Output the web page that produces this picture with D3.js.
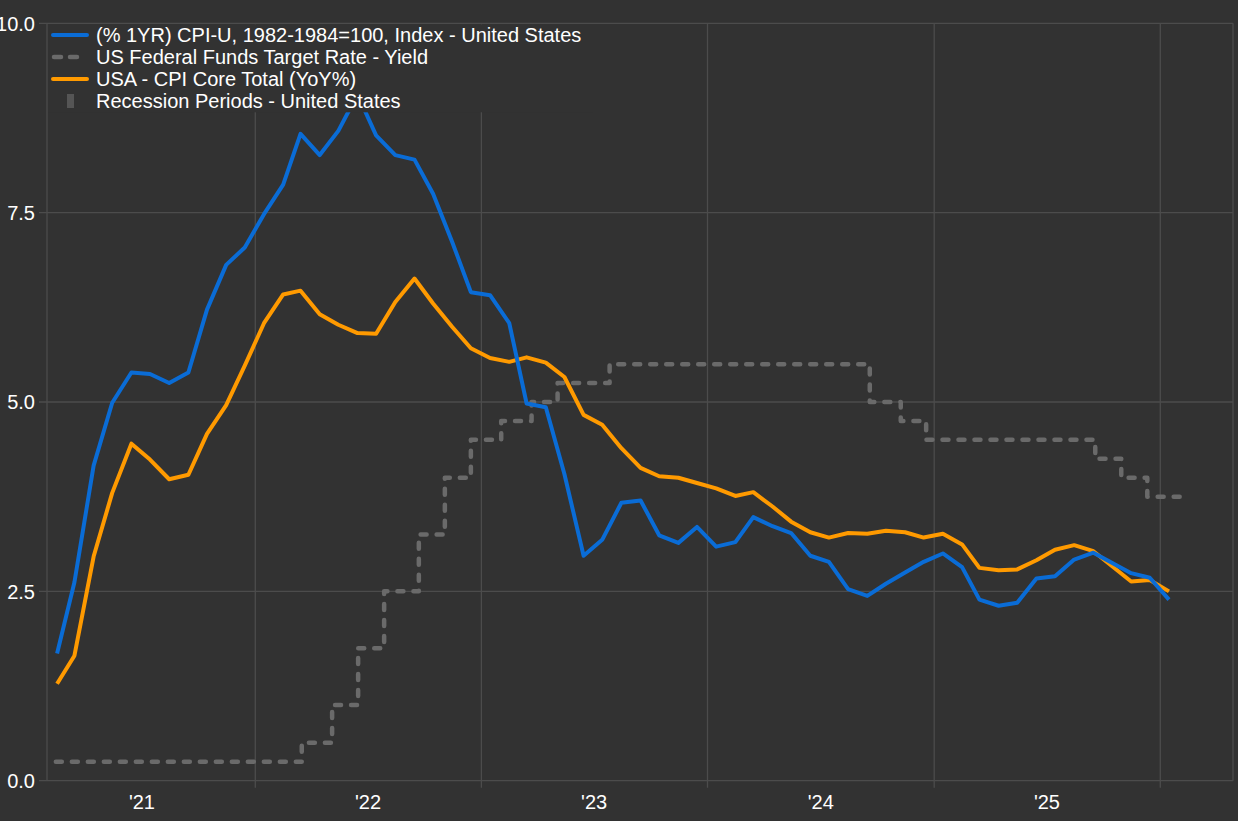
<!DOCTYPE html>
<html lang="en">
    <head>
        <meta charset="UTF-8">
        <title>CPI vs Fed Funds</title>
        <style>
            * { box-sizing: border-box; }
            body { margin: 0; background: #323232; font-family: 'Liberation Sans', Arial, sans-serif; }
            svg { display: block; }
        </style>
    </head>
    <body>
        <div id="chart"></div>
        <script src="https://cdn.jsdelivr.net/npm/d3@7/dist/d3.min.js"></script>
        <script>
            // monthly series, Feb 2021 .. Jan 2026 (Oct 2025 not published)
            var months = ['2021-02','2021-03','2021-04','2021-05','2021-06','2021-07','2021-08','2021-09','2021-10','2021-11','2021-12',
                '2022-01','2022-02','2022-03','2022-04','2022-05','2022-06','2022-07','2022-08','2022-09','2022-10','2022-11','2022-12',
                '2023-01','2023-02','2023-03','2023-04','2023-05','2023-06','2023-07','2023-08','2023-09','2023-10','2023-11','2023-12',
                '2024-01','2024-02','2024-03','2024-04','2024-05','2024-06','2024-07','2024-08','2024-09','2024-10','2024-11','2024-12',
                '2025-01','2025-02','2025-03','2025-04','2025-05','2025-06','2025-07','2025-08','2025-09','2025-11','2025-12',
                '2026-01'];
            var cpiHeadline = [1.68,2.62,4.16,4.99,5.39,5.37,5.25,5.39,6.22,6.81,7.04,
                7.48,7.87,8.54,8.26,8.58,9.06,8.52,8.26,8.20,7.75,7.11,6.45,
                6.41,6.04,4.98,4.93,4.05,2.97,3.18,3.67,3.70,3.24,3.14,3.35,
                3.09,3.15,3.48,3.36,3.27,2.97,2.89,2.53,2.44,2.60,2.75,2.89,
                3.00,2.82,2.39,2.31,2.35,2.67,2.70,2.92,3.01,2.74,2.68,
                2.39];
            var cpiCore = [1.28,1.65,2.96,3.80,4.45,4.24,3.98,4.04,4.58,4.96,5.48,
                6.04,6.42,6.47,6.16,6.02,5.91,5.90,6.32,6.63,6.30,5.99,5.71,
                5.58,5.53,5.59,5.52,5.33,4.83,4.70,4.39,4.13,4.02,4.00,3.93,
                3.86,3.76,3.81,3.62,3.42,3.28,3.21,3.27,3.26,3.30,3.28,3.21,
                3.26,3.12,2.81,2.78,2.79,2.91,3.05,3.11,3.03,2.63,2.65,
                2.50];

            // fed funds target (upper bound), value holds from each date
            var fedDates = ['2021-02-13','2022-03-17','2022-05-05','2022-06-16','2022-07-28','2022-09-22','2022-11-03','2022-12-15',
                '2023-02-02','2023-03-23','2023-05-04','2023-07-27','2024-09-19','2024-11-08','2024-12-19',
                '2025-09-18','2025-10-30','2025-12-11','2026-02-04'];
            var fedRate = [0.25,0.50,1.00,1.75,2.50,3.25,4.00,4.50,
                4.75,5.00,5.25,5.50,5.00,4.75,4.50,
                4.25,4.00,3.75,3.75];

            var yTicks = [0, 2.5, 5, 7.5, 10];
            var yearTicks = ['2021','2022','2023','2024','2025'];
            var legendLabels = ['(% 1YR) CPI-U, 1982-1984=100, Index - United States',
                'US Federal Funds Target Rate - Yield',
                'USA - CPI Core Total (YoY%)',
                'Recession Periods - United States'];

            var w = 1238, h = 821;
            var plotL = 47, plotR = 1233, plotT = 23.3, plotB = 780.7;
            var bg = '#323232', grid = '#4c4c4c';
            var blue = '#0a6cd6', orange = '#ff9a00', fedColor = '#6a6a6a';

            var parseMonth = d3.timeParse('%Y-%m');
            var parseDay = d3.timeParse('%Y-%m-%d');
            var monthDate = function (m) { return d3.timeDay.offset(parseMonth(m), 14); };

            // calibrate time axis: 1 Jan 2022 -> 255.3, 1 Jan 2026 -> 1160.3
            var calib = d3.scaleTime().domain([new Date(2022, 0, 1), new Date(2026, 0, 1)]).range([255.3, 1160.3]);
            var x = d3.scaleTime().domain([calib.invert(plotL), calib.invert(plotR)]).range([plotL, plotR]);
            var y = d3.scaleLinear().domain([0, 10]).range([plotB, plotT]);

            const svg = d3.select('#chart').append('svg').attr('width', w).attr('height', h);
            svg.append('rect').attr('width', w).attr('height', h).style('fill', bg);

            // horizontal grid + y labels
            svg.append('g').selectAll('line').data(yTicks).join('line')
                .attr('x1', plotL - 8).attr('x2', plotR)
                .attr('y1', d => y(d)).attr('y2', d => y(d))
                .style('stroke', grid).style('stroke-width', 1.3);
            svg.append('g').selectAll('text').data(yTicks).join('text')
                .attr('x', 35).attr('y', d => y(d)).attr('dy', '0.36em')
                .attr('text-anchor', 'end')
                .style('fill', '#fff').style('font-size', '20px')
                .text(d => d3.format('.1f')(d));

            // year boundaries + labels
            var yearStarts = yearTicks.map(yr => new Date(+yr + 1, 0, 1));
            svg.append('g').selectAll('line').data(yearStarts).join('line')
                .attr('x1', d => x(d)).attr('x2', d => x(d))
                .attr('y1', plotT).attr('y2', plotB + 7)
                .style('stroke', grid).style('stroke-width', 1.3);
            svg.append('g').selectAll('text').data(yearTicks).join('text')
                .attr('x', d => x(new Date(+d, 6, 2)))
                .attr('y', 809)
                .attr('text-anchor', 'middle')
                .style('fill', '#fff').style('font-size', '20px')
                .text(d => "'" + d.slice(2));

            // frame
            svg.append('line').attr('x1', plotL).attr('x2', plotL).attr('y1', plotT).attr('y2', plotB).style('stroke', grid).style('stroke-width', 1.3);
            svg.append('line').attr('x1', plotR).attr('x2', plotR).attr('y1', plotT).attr('y2', plotB).style('stroke', grid).style('stroke-width', 1.3);

            // fed funds step line
            var fed = fedDates.map((d, i) => ({ date: parseDay(d), value: fedRate[i] }));
            svg.append('path').datum(fed)
                .attr('d', d3.line().curve(d3.curveStepAfter).x(d => x(d.date)).y(d => y(d.value)))
                .style('fill', 'none').style('stroke', fedColor).style('stroke-width', 4.5)
                .style('stroke-dasharray', '6,10').style('stroke-linecap', 'round').style('stroke-linejoin', 'round');

            var line = d3.line().x(d => x(d.date)).y(d => y(d.value));
            var core = months.map((m, i) => ({ date: monthDate(m), value: cpiCore[i] }));
            var head = months.map((m, i) => ({ date: monthDate(m), value: cpiHeadline[i] }));
            svg.append('path').datum(core).attr('d', line)
                .style('fill', 'none').style('stroke', orange).style('stroke-width', 4).style('stroke-linejoin', 'round');
            svg.append('path').datum(head).attr('d', line)
                .style('fill', 'none').style('stroke', blue).style('stroke-width', 4).style('stroke-linejoin', 'round');

            // legend (opaque box sits over the plot)
            var lg = svg.append('g');
            lg.append('rect').attr('x', plotL + 1).attr('y', plotT + 1).attr('width', 545).attr('height', 88).style('fill', bg);
            var rowY = [35, 57, 79, 101];
            lg.append('line').attr('x1', 53).attr('x2', 87).attr('y1', rowY[0]).attr('y2', rowY[0])
                .style('stroke', blue).style('stroke-width', 4).style('stroke-linecap', 'round');
            lg.append('line').attr('x1', 54).attr('x2', 78).attr('y1', rowY[1]).attr('y2', rowY[1])
                .style('stroke', fedColor).style('stroke-width', 4.5).style('stroke-dasharray', '7,9').style('stroke-linecap', 'round');
            lg.append('line').attr('x1', 53).attr('x2', 87).attr('y1', rowY[2]).attr('y2', rowY[2])
                .style('stroke', orange).style('stroke-width', 4).style('stroke-linecap', 'round');
            lg.append('rect').attr('x', 67).attr('y', 94).attr('width', 7).attr('height', 14).style('fill', '#555');
            lg.selectAll('text').data(legendLabels).join('text')
                .attr('x', 96).attr('y', (d, i) => rowY[i]).attr('dy', '0.36em')
                .style('fill', '#fff').style('font-size', '20px')
                .text(d => d);
        </script>
    </body>
</html>
